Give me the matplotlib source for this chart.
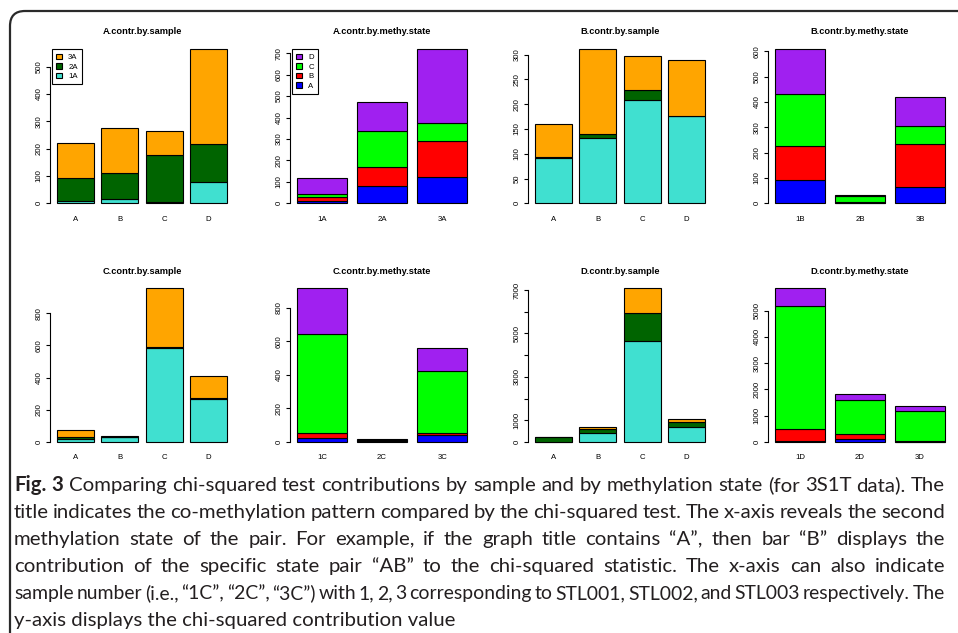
import matplotlib
matplotlib.use("Agg")
import matplotlib.pyplot as plt
from matplotlib.patches import FancyBboxPatch, Patch
from matplotlib.transforms import IdentityTransform
from matplotlib import font_manager
import numpy as np

# ---------------- data ----------------
sample_labels = ["A", "B", "C", "D"]
state_names = ["A", "B", "C", "D"]

# A: by sample (series 1A, 2A, 3A over second state A..D)
A_sample_1A = [10, 17, 6, 79]
A_sample_2A = [81, 93, 172, 136]
A_sample_3A = [130, 164, 85, 348]
# A: by methylation state (series A..D over samples)
A_state_labels = ["1A", "2A", "3A"]
A_state_A = [11, 79, 124]
A_state_B = [19, 92, 165]
A_state_C = [12, 168, 84]
A_state_D = [78, 132, 345]

B_sample_1B = [92, 131, 208, 176]
B_sample_2B = [1, 9, 20, 1]
B_sample_3B = [67, 171, 69, 113]
B_state_labels = ["1B", "2B", "3B"]
B_state_A = [92, 1, 64]
B_state_B = [134, 5, 172]
B_state_C = [204, 21, 71]
B_state_D = [178, 4, 113]

C_sample_1C = [20, 28, 587, 267]
C_sample_2C = [10, 3, 3, 7]
C_sample_3C = [43, 8, 365, 138]
C_state_labels = ["1C", "2C", "3C"]
C_state_A = [22, 4, 42]
C_state_B = [32, 4, 12]
C_state_C = [589, 6, 367]
C_state_D = [272, 3, 139]

D_sample_1D = [10, 417, 4650, 676]
D_sample_2D = [200, 200, 1276, 231]
D_sample_3D = [20, 60, 1151, 158]
D_state_labels = ["1D", "2D", "3D"]
D_state_A = [55, 114, 5]
D_state_B = [440, 190, 40]
D_state_C = [4683, 1294, 1152]
D_state_D = [672, 235, 160]

sample_colors = ["#40E0D0", "#006400", "#FFA500"]
state_colors = ["#0000FF", "#FF0000", "#00FF00", "#A020F0"]

caption_bold = "Fig. 3"
caption_lines = [
    "Comparing chi-squared test contributions by sample and by methylation state (for 3S1T data). The",
    "title indicates the co-methylation pattern compared by the chi-squared test. The x-axis reveals the second",
    "methylation state of the pair. For example, if the graph title contains \u201cA\u201d, then bar \u201cB\u201d displays the",
    "contribution of the specific state pair \u201cAB\u201d to the chi-squared statistic. The x-axis can also indicate",
    "sample number (i.e., \u201c1C\u201d, \u201c2C\u201d, \u201c3C\u201d) with 1, 2, 3 corresponding to STL001, STL002, and STL003 respectively. The",
    "y-axis displays the chi-squared contribution value",
]

# ---------------- figure ----------------
W, H = 958, 633
fig = plt.figure(figsize=(W / 100, H / 100), dpi=100)
fig.patch.set_facecolor("white")

FONT = ["Liberation Sans", "DejaVu Sans"]

col_left = [50, 290, 528, 768]
col_w = 184
row_top = [43.1, 282.2]
row_bot = [209.5, 448.1]


def make_ax(r, c):
    l = col_left[c]
    b = H - row_bot[r]
    h = row_bot[r] - row_top[r]
    return fig.add_axes([l / W, b / H, col_w / W, h / H])


def draw_panel(ax, title, labels, series, colors, yticks, shown=None, legend_labels=None):
    n = len(labels)
    centers = 0.7 + 1.2 * np.arange(n)
    bottom = np.zeros(n)
    handles = []
    for vals, col in zip(series, colors):
        v = np.array(vals, dtype=float)
        ax.bar(centers, v, width=1.0, bottom=bottom, color=col,
               edgecolor="black", linewidth=0.8)
        bottom += v
        handles.append(Patch(facecolor=col, edgecolor="black", linewidth=0.8))
    M = bottom.max()
    ax.set_ylim(-0.04 * M, 1.04 * M)
    rng = 1.2 * n - 0.2
    ax.set_xlim(0.2 - 0.04 * rng, 1.2 * n + 0.04 * rng)
    for s in ["top", "right", "bottom"]:
        ax.spines[s].set_visible(False)
    ax.spines["left"].set_linewidth(0.8)
    ax.spines["left"].set_bounds(yticks[0], yticks[-1])
    ax.set_yticks(yticks)
    if shown is None:
        shown = [str(t) for t in yticks]
    ax.set_yticklabels(shown, rotation=90, va="center", family=FONT, fontsize=5.6)
    ax.tick_params(axis="y", length=2.9, width=0.8, pad=2.5)
    ax.set_xticks(centers)
    ax.set_xticklabels(labels, family=FONT, fontsize=5.6)
    ax.tick_params(axis="x", length=0, pad=4.6)
    ax.set_title(title, family=FONT, fontsize=6.7, fontweight="bold", pad=6.2)
    ax.patch.set_visible(False)
    if legend_labels is not None:
        top_frac = (M - ax.get_ylim()[0]) / (ax.get_ylim()[1] - ax.get_ylim()[0])
        leg = ax.legend(handles[::-1], legend_labels[::-1], loc="upper left",
                        bbox_to_anchor=(0.01, top_frac), borderaxespad=0,
                        prop={"family": FONT, "size": 5.6},
                        handlelength=0.75, handleheight=0.75, handletextpad=0.8,
                        labelspacing=0.25, borderpad=0.55, fancybox=False,
                        framealpha=1, edgecolor="black")
        leg.get_frame().set_linewidth(0.8)


ax = make_ax(0, 0)
draw_panel(ax, "A.contr.by.sample", sample_labels,
           [A_sample_1A, A_sample_2A, A_sample_3A], sample_colors,
           list(range(0, 501, 100)), legend_labels=["1A", "2A", "3A"])
ax = make_ax(0, 1)
draw_panel(ax, "A.contr.by.methy.state", A_state_labels,
           [A_state_A, A_state_B, A_state_C, A_state_D], state_colors,
           list(range(0, 701, 100)), legend_labels=state_names)
ax = make_ax(0, 2)
draw_panel(ax, "B.contr.by.sample", sample_labels,
           [B_sample_1B, B_sample_2B, B_sample_3B], sample_colors,
           list(range(0, 301, 50)))
ax = make_ax(0, 3)
draw_panel(ax, "B.contr.by.methy.state", B_state_labels,
           [B_state_A, B_state_B, B_state_C, B_state_D], state_colors,
           list(range(0, 601, 100)))
ax = make_ax(1, 0)
draw_panel(ax, "C.contr.by.sample", sample_labels,
           [C_sample_1C, C_sample_2C, C_sample_3C], sample_colors,
           list(range(0, 801, 200)))
ax = make_ax(1, 1)
draw_panel(ax, "C.contr.by.methy.state", C_state_labels,
           [C_state_A, C_state_B, C_state_C, C_state_D], state_colors,
           list(range(0, 801, 200)))
ax = make_ax(1, 2)
dticks = list(range(0, 7001, 1000))
draw_panel(ax, "D.contr.by.sample", sample_labels,
           [D_sample_1D, D_sample_2D, D_sample_3D], sample_colors,
           dticks, shown=[str(t) if t in (0, 1000, 3000, 5000, 7000) else "" for t in dticks])
ax = make_ax(1, 3)
draw_panel(ax, "D.contr.by.methy.state", D_state_labels,
           [D_state_A, D_state_B, D_state_C, D_state_D], state_colors,
           list(range(0, 5001, 1000)))

# ---------------- border ----------------
border = FancyBboxPatch((10, -30), 1000, H - 11 + 30,
                        boxstyle="round,pad=0,rounding_size=15",
                        transform=IdentityTransform(), facecolor="none",
                        edgecolor="#2a2a2a", linewidth=1.6)
fig.patches.append(border)

# ---------------- caption (justified) ----------------
installed = {f.name for f in font_manager.fontManager.ttflist}
cap_family = "Liberation Sans Narrow" if "Liberation Sans Narrow" in installed else "Lato"
CAP_FONT = [cap_family, "DejaVu Sans"]
cap_color = "#231F20"
baselines = [491, 518, 545, 572, 599, 626]
x0 = 14
x_right = 945
renderer = fig.canvas.get_renderer()


def text_w(s, size, bold=False):
    t = fig.text(0, 0, s, transform=IdentityTransform(), family=CAP_FONT,
                 fontsize=size, fontweight="bold" if bold else "normal")
    w = t.get_window_extent(renderer).width
    t.remove()
    return w


line_words = []
for i, line in enumerate(caption_lines):
    words = line.split(" ")
    bold = [False] * len(words)
    if i == 0:
        words = caption_bold.split(" ") + words
        bold = [True, True] + bold
    line_words.append((words, bold))

# base font size: the first line fills the width at natural spacing
REF = 12
space_ref = text_w("x x", REF) - text_w("xx", REF)
w1 = sum(text_w(w, REF, b) for w, b in zip(*line_words[0])) + space_ref * (len(line_words[0][0]) - 1)
fs = REF * (x_right - 2 - x0) / w1
space = space_ref * fs / REF

for i, (words, bold) in enumerate(line_words):
    y = H - baselines[i]
    size = fs
    wsum = sum(text_w(w, size, b) for w, b in zip(words, bold))
    min_gap = 0.6 * space
    need = wsum + min_gap * (len(words) - 1)
    if need > (x_right - x0):
        size = fs * (x_right - x0) / need
    if i == len(line_words) - 1:
        fig.text(x0, y, caption_lines[i], transform=IdentityTransform(), family=CAP_FONT,
                 fontsize=size, color=cap_color, va="baseline", ha="left")
        continue
    objs, widths = [], []
    for w, b in zip(words, bold):
        t = fig.text(0, y, w, transform=IdentityTransform(), family=CAP_FONT,
                     fontsize=size, color=cap_color, va="baseline", ha="left",
                     fontweight="bold" if b else "normal")
        objs.append(t)
        widths.append(t.get_window_extent(renderer).width)
    gap = (x_right - x0 - sum(widths)) / (len(words) - 1)
    x = x0
    for t, w in zip(objs, widths):
        t.set_x(x)
        x += w + gap

fig.savefig("out.png", dpi=100)
